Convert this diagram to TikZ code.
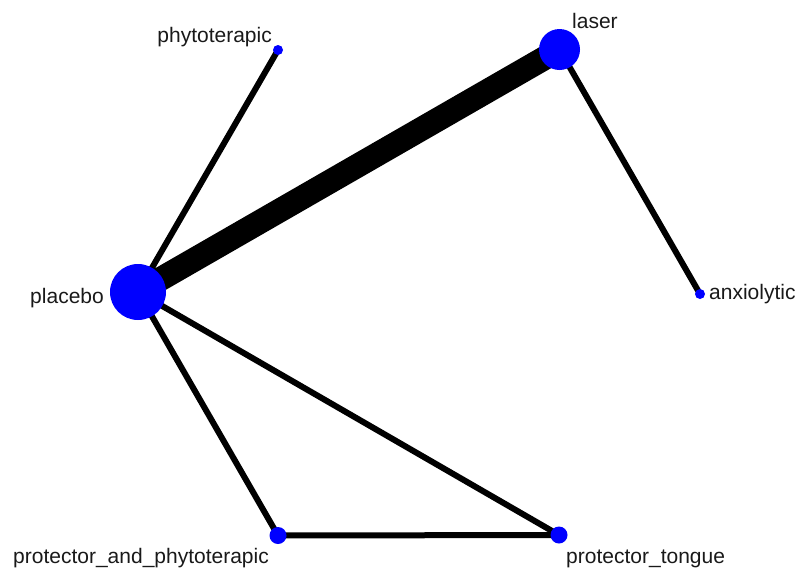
\documentclass[tikz,border=0pt]{standalone}
\usepackage{fontspec}
\setmainfont{Liberation Sans}
\usetikzlibrary{backgrounds}
\definecolor{nodeblue}{RGB}{0,0,255}
\begin{document}
\begin{tikzpicture}[x=1pt,y=-1pt,
  vertex/.style={circle,fill=nodeblue,draw=none,inner sep=0pt,minimum size=#1},
  link/.style={line width=6pt,black},
  biglink/.style={line width=24pt,black},
  lbl/.style={inner sep=0pt,font=\fontsize{21}{24}\selectfont,text=black!90}]
\useasboundingbox (0,0) rectangle (800,571);

% treatments
\node[vertex=56pt] (placebo) at (138,292) {};
\node[vertex=41pt] (laser)   at (559.5,49.5) {};
\node[vertex=10pt] (phyto)   at (278,50) {};
\node[vertex=10pt] (anxio)   at (700,294) {};
\node[vertex=17pt] (pap)     at (278,535.5) {};
\node[vertex=17pt] (tongue)  at (559,535) {};

% names
\node[lbl,anchor=base east] (tplacebo) at (104,303) {placebo};
\node[lbl,anchor=base west] (tlaser)   at (572,28) {laser};
\node[lbl,anchor=base east] (tphyto)   at (272,42) {phytoterapic};
\node[lbl,anchor=base west] (tanxio)   at (709,299) {anxiolytic};
\node[lbl,anchor=base west] (tpap)     at (13,563) {protector\_and\_phytoterapic};
\node[lbl,anchor=base west] (ttongue)  at (566,563) {protector\_tongue};

% comparisons
\begin{scope}[on background layer]
  \draw[biglink] (placebo.center) -- (laser.center);
  \draw[link] (placebo.center) -- (phyto.center);
  \draw[link] (laser.center) -- (anxio.center);
  \draw[link] (placebo.center) -- (pap.center);
  \draw[link] (placebo.center) -- (tongue.center);
  \draw[link] (pap.center) -- (tongue.center);
\end{scope}
\end{tikzpicture}
\end{document}
